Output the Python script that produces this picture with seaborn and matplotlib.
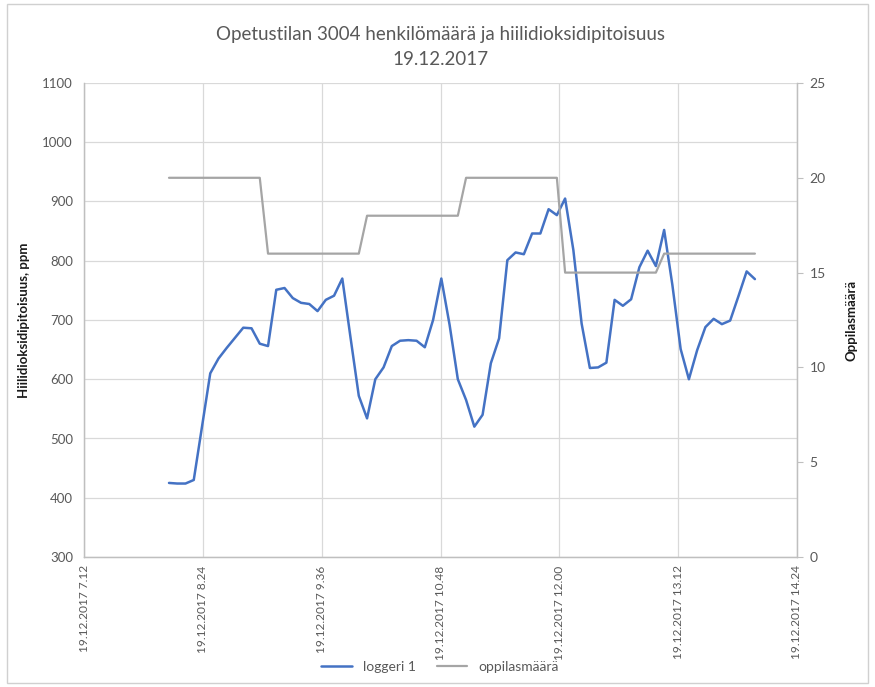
import numpy as np
import pandas as pd
import matplotlib
matplotlib.use("Agg")
import matplotlib.pyplot as plt
import matplotlib.dates as mdates
import seaborn as sns

# CO2 readings (ppm) from logger 1, one reading every 5 minutes
co2_ppm = [
    425, 424, 424, 430, 520, 610, 635, 653, 670, 687, 686, 660,
    656, 751, 754, 737, 729, 727, 715, 734, 741, 770, 670, 572,
    534, 600, 620, 656, 665, 666, 665, 654, 700, 770, 692, 600,
    565, 520, 540, 627, 669, 801, 814, 811, 846, 846, 887, 877,
    905, 818, 694, 619, 620, 628, 734, 724, 735, 789, 817, 791,
    852, 759, 651, 600, 649, 688, 702, 693, 699, 740, 782, 769,
]
# Pupil count per lesson hour (12 readings per hour)
pupils_per_hour = [20, 16, 18, 20, 15, 16]
readings_per_hour = 12

first_reading = pd.Timestamp("2017-12-19 08:03:30")
sample_step = pd.Timedelta(minutes=5)

axis_start = pd.Timestamp("2017-12-19 07:12")
axis_end = pd.Timestamp("2017-12-19 14:24")
tick_step = pd.Timedelta(minutes=72)

times = [first_reading + i * sample_step for i in range(len(co2_ppm))]
pupils = np.repeat(pupils_per_hour, readings_per_hour)

df = pd.DataFrame({"aika": times, "loggeri 1": co2_ppm, "oppilasmäärä": pupils})

sns.set_theme(style="white")
plt.rcParams["font.family"] = ["Lato", "DejaVu Sans"]

text_gray = "#595959"
grid_gray = "#d9d9d9"
blue = "#4472C4"
gray = "#A5A5A5"

fig = plt.figure(figsize=(8.75, 6.87), dpi=100)
ax = fig.add_axes([84 / 875, 1 - 557 / 687, (797 - 84) / 875, (557 - 83) / 687])
ax2 = ax.twinx()

sns.lineplot(data=df, x="aika", y="loggeri 1", ax=ax, color=blue, linewidth=1.8,
             label="loggeri 1", legend=False)
sns.lineplot(data=df, x="aika", y="oppilasmäärä", ax=ax2, color=gray, linewidth=1.6,
             label="oppilasmäärä", legend=False)

# x axis: 72-minute ticks across the school day
xticks = [axis_start + i * tick_step for i in range(7)]
ax.set_xlim(mdates.date2num(axis_start), mdates.date2num(axis_end))
ax.set_xticks([mdates.date2num(t) for t in xticks])
ax.set_xticklabels([f"{t.day}.{t.month}.{t.year} {t.hour}.{t.minute:02d}" for t in xticks],
                   rotation=90, fontsize=8.6, color=text_gray)

ax.set_ylim(300, 1100)
ax.set_yticks(range(300, 1101, 100))
ax.tick_params(axis="y", labelsize=9.5, labelcolor=text_gray, length=0, pad=8)
ax.tick_params(axis="x", length=0, pad=6)
ax2.set_ylim(0, 25)
ax2.set_yticks(range(0, 26, 5))
ax2.tick_params(axis="y", labelsize=10, labelcolor=text_gray, length=4, color="#bfbfbf",
                width=0.8, pad=5, direction="out")

ax.grid(True, color=grid_gray, linewidth=0.9)
ax2.grid(False)
ax.set_axisbelow(True)

for a in (ax, ax2):
    a.spines["top"].set_visible(False)
    for s in ("left", "right", "bottom"):
        a.spines[s].set_color("#bfbfbf")
        a.spines[s].set_linewidth(0.9)

ax.set_xlabel("")
ax.set_ylabel("Hiilidioksidipitoisuus, ppm", fontsize=9.5, fontweight="bold",
              color="#1a1a1a", labelpad=9)
ax2.set_ylabel("Oppilasmäärä", fontsize=9.5, fontweight="bold", color="#1a1a1a", labelpad=14)

fig.suptitle("Opetustilan 3004 henkilömäärä ja hiilidioksidipitoisuus\n19.12.2017",
             x=440 / 875, y=1 - 26 / 687, fontsize=13.5, color=text_gray, linespacing=1.55)

h1, l1 = ax.get_legend_handles_labels()
h2, l2 = ax2.get_legend_handles_labels()
fig.legend(h1 + h2, l1 + l2, loc="center", bbox_to_anchor=(440 / 875, 1 - 667 / 687),
           ncol=2, frameon=False, fontsize=10, handlelength=2.2, columnspacing=1.5,
           labelcolor=text_gray)

# chart-area frame
fig.patches.append(plt.Rectangle((7 / 875, 4 / 687), 861 / 875, 679 / 687,
                                 transform=fig.transFigure, fill=False,
                                 edgecolor="#d0d0d0", linewidth=1.0))

fig.savefig("out.png", dpi=100, facecolor="white")
